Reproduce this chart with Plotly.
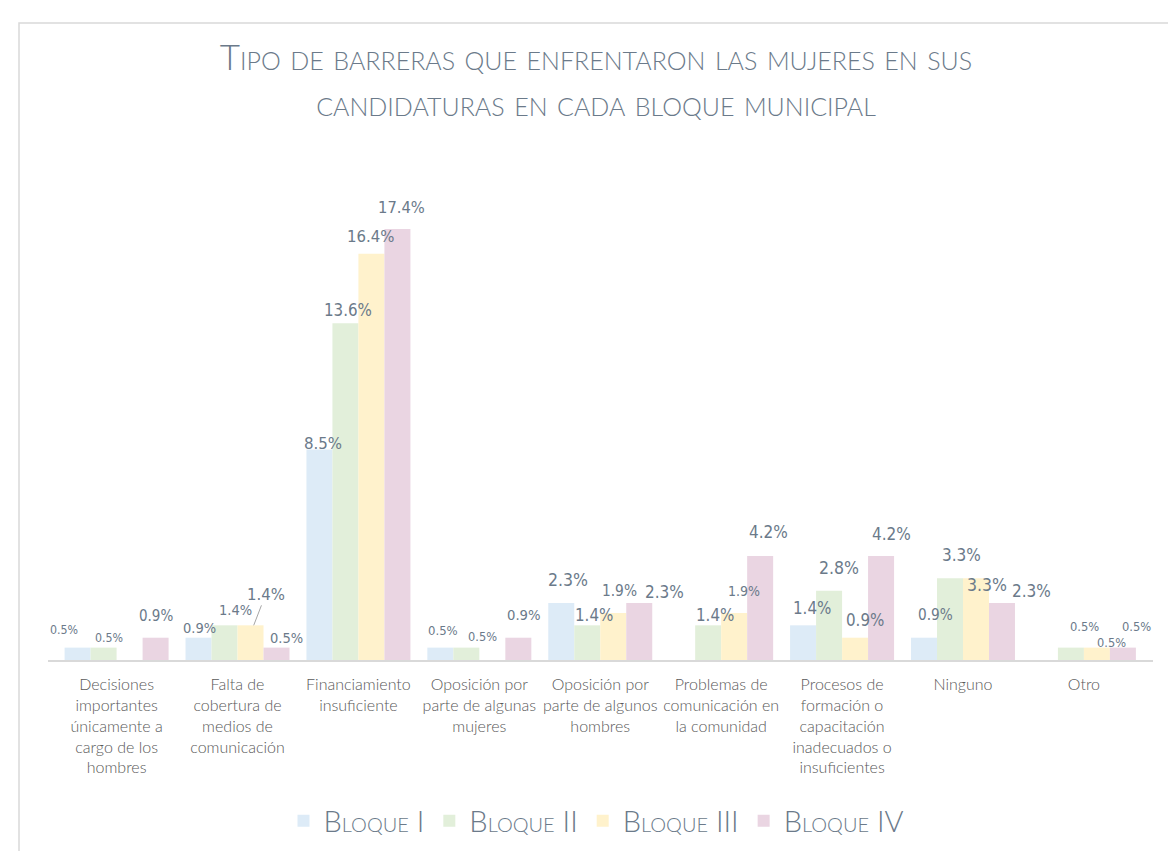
import plotly.graph_objects as go

categories = [
    "Decisiones<br>importantes<br>únicamente a<br>cargo de los<br>hombres",
    "Falta de<br>cobertura de<br>medios de<br>comunicación",
    "Financiamiento<br>insuficiente",
    "Oposición por<br>parte de algunas<br>mujeres",
    "Oposición por<br>parte de algunos<br>hombres",
    "Problemas de<br>comunicación en<br>la comunidad",
    "Procesos de<br>formación o<br>capacitación<br>inadecuados o<br>insuficientes",
    "Ninguno",
    "Otro",
]
series_names = ["Bloque I", "Bloque II", "Bloque III", "Bloque IV"]
bloque_1 = [0.5, 0.9, 8.5, 0.5, 2.3, None, 1.4, 0.9, None]
bloque_2 = [0.5, 1.4, 13.6, 0.5, 1.4, 1.4, 2.8, 3.3, 0.5]
bloque_3 = [None, 1.4, 16.4, None, 1.9, 1.9, 0.9, 3.3, 0.5]
bloque_4 = [0.9, 0.5, 17.4, 0.9, 2.3, 4.2, 4.2, 2.3, 0.5]
values = [bloque_1, bloque_2, bloque_3, bloque_4]

# ---- styles ----
colors = ["#DDEBF7", "#E2EFDA", "#FFF2CC", "#EAD5E2"]
label_color = "#6B7A8A"
num_font = "Liberation Sans Narrow, DejaVu Sans Condensed, sans-serif"
light_font = "Lato, Open Sans, sans-serif"

# data-label font sizes and pixel offsets (label centre relative to bar top centre)
label_sizes = [
    [12.3, 14.5, 16.7, 13, 17.5, 0, 16.8, 15.2, 0],
    [12.3, 14.5, 16.8, 12.7, 16.8, 16.8, 17.5, 17, 12.8],
    [0, 16.6, 16.6, 0, 15.3, 14, 16.8, 17.5, 12.7],
    [15, 14.5, 16.4, 14.7, 17, 17, 17, 17, 12.8],
]
label_dx = [
    [-13, 2, 4, 3, 7, 0, 10, 12, 0],
    [6, 11, 3, 16, 7, 7, 10, 12, 14],
    [0, 15, -1, 0, 6, 10, 10, 11, 14],
    [0, 9, 3, 5, 25, 8, 10, 29, 13],
]
label_dy = [
    [-18, -10, -6, -17, -23, 0, -17, -23, 0],
    [-10, -15, -13, -11, -10, -10, -23, -23, -21],
    [0, -31, -17, 0, -22, -22, -18, 7, -5],
    [-22, -10, -22, -23, -11, -24, -22, -12, -21],
]
leader_line = (2, 1)  # (series index, category index) whose label uses a leader line

W, H = 1176, 851
margin = dict(l=40, r=31, t=170, b=199)
bargap = 0.14
n_series = len(series_names)
plot_w = W - margin["l"] - margin["r"]
bar_px = plot_w / len(categories) * (1 - bargap) / n_series

fig = go.Figure()
for name, vals, col in zip(series_names, values, colors):
    fig.add_trace(go.Bar(
        name=name, x=categories, y=vals,
        marker=dict(color=col, line=dict(width=0)),
        hoverinfo="x+y+name",
    ))

for j, vals in enumerate(values):
    for i, v in enumerate(vals):
        if v is None:
            continue
        base_shift = (j - (n_series - 1) / 2) * bar_px
        font = dict(family=num_font, size=label_sizes[j][i], color=label_color)
        if (j, i) == leader_line:
            fig.add_annotation(
                x=categories[i], y=v, xref="x", yref="y",
                text="%.1f%%" % v, showarrow=True, arrowhead=0, arrowwidth=1,
                arrowcolor="#A6A6A6", xshift=base_shift + 3,
                ax=label_dx[j][i] - 3, ay=label_dy[j][i], font=font,
            )
        else:
            fig.add_annotation(
                x=categories[i], y=v, xref="x", yref="y",
                text="%.1f%%" % v, showarrow=False,
                xanchor="center", yanchor="middle",
                xshift=base_shift + label_dx[j][i], yshift=-label_dy[j][i],
                font=font,
            )

# outer frame (light grey border, open at right and bottom)
py_h = H - margin["t"] - margin["b"]
fig.add_shape(type="rect", xref="paper", yref="paper",
              x0=(11 - margin["l"]) / plot_w, x1=1.2,
              y0=-0.9, y1=(H - margin["b"] - 15) / py_h,
              line=dict(color="#D9D9D9", width=1.5), fillcolor="rgba(0,0,0,0)", layer="below")

fig.update_layout(
    width=W, height=H, margin=margin,
    paper_bgcolor="white", plot_bgcolor="white",
    barmode="group", bargap=bargap, bargroupgap=0,
    title=dict(
        text="Tipo de barreras que enfrentaron las mujeres en sus<br>candidaturas en cada bloque municipal",
        x=0.5, xanchor="center", xref="container",
        y=1 - 62 / H, yanchor="middle", yref="container",
        font=dict(family=light_font, size=35, color=label_color, variant="small-caps", weight=300),
    ),
    xaxis=dict(showline=True, linecolor="#D9D9D9", linewidth=2, ticks="",
               ticklabelstandoff=9,
               tickfont=dict(family=light_font, size=16, color="#595959", weight=300)),
    yaxis=dict(range=[0, 19.46], visible=False, showgrid=False, zeroline=False),
    legend=dict(orientation="h", x=0.5, xanchor="center", xref="container",
                y=1 - 813 / H, yanchor="middle", yref="container",
                font=dict(family=light_font, size=29, color=label_color, variant="small-caps", weight=300),
                traceorder="normal", itemwidth=30),
    showlegend=True,
)

fig.write_html("out.html")
